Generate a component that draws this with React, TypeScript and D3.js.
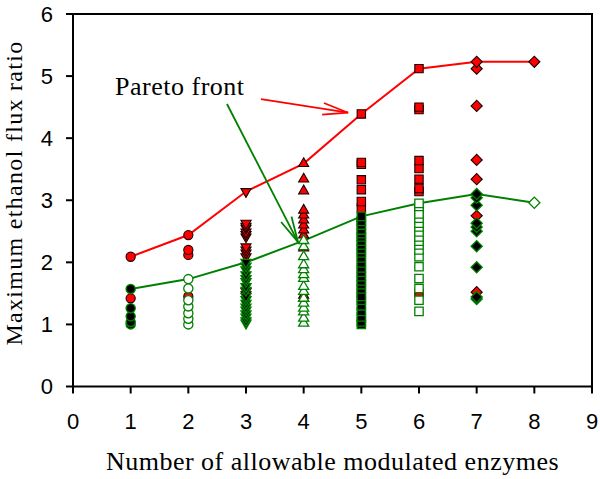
import React from "react";
import * as d3 from "d3";

// ---------- data ----------
const columns = [1, 2, 3, 4, 5, 6, 7, 8];
const shapes = ["circle", "circle", "triangleDown", "triangleUp", "square", "square", "diamond", "diamond"];
const greenFilled = [true, false, true, false, true, false, true, false];

// red series (filled red markers)
const redValues: number[][] = [
  [2.09, 1.42],
  [2.44, 2.2, 2.12, 1.45],
  [3.14, 2.63, 2.58, 2.55, 2.49, 2.45, 2.41, 2.25, 2.2, 2.15, 2.09, 1.53, 1.48],
  [3.59, 3.34, 3.15, 2.84, 2.76, 2.68, 2.6, 2.52, 2.44, 2.23, 1.47, 1.42],
  [4.39, 3.61, 3.58, 3.33, 3.17, 2.98, 2.87, 2.66, 1.5],
  [5.12, 4.5, 4.46, 3.64, 3.51, 3.34, 3.19, 3.14, 2.82, 1.5],
  [5.23, 5.12, 4.52, 3.65, 3.34, 2.75, 1.52],
  [5.23],
];

// green series
const greenValues: number[][] = [
  [1.57, 1.26, 1.13, 1.04, 1.0],
  [1.73, 1.58, 1.39, 1.29, 1.18, 1.09, 1.0],
  [2.0, 1.94, 1.88, 1.8, 1.74, 1.69, 1.61, 1.55, 1.45, 1.4, 1.34, 1.28, 1.23, 1.17, 1.12, 1.06, 1.02],
  [2.35, 2.25, 2.09, 1.96, 1.88, 1.8, 1.74, 1.61, 1.53, 1.42, 1.34, 1.26, 1.2, 1.1, 1.02],
  [2.74, 2.66, 2.6, 2.52, 2.46, 2.41, 2.34, 2.28, 2.21, 2.15, 2.07, 1.99, 1.91, 1.84, 1.77, 1.7, 1.64, 1.57, 1.45, 1.39, 1.3, 1.21, 1.12, 1.04, 1.0],
  [2.95, 2.9, 2.78, 2.71, 2.63, 2.57, 2.49, 2.41, 2.34, 2.28, 2.2, 2.09, 1.93, 1.74, 1.58, 1.39, 1.21],
  [3.1, 3.04, 2.92, 2.63, 2.57, 2.5, 2.26, 1.92, 1.44, 1.41],
  [2.96],
];

// Pareto fronts
const redFront = [2.09, 2.44, 3.14, 3.59, 4.39, 5.12, 5.23, 5.23];
const greenFront = [1.57, 1.73, 2.0, 2.35, 2.74, 2.95, 3.1, 2.96];

const xTicks = [0, 1, 2, 3, 4, 5, 6, 7, 8, 9];
const yTicks = [0, 1, 2, 3, 4, 5, 6];

const xTitle = "Number of allowable modulated enzymes";
const yTitle = "Maximum ethanol flux ratio";
const annotation = "Pareto front";
// annotation anchors in data units
const annotText = [0.73, 4.7];
const redArrow = [[3.26, 4.63], [4.77, 4.41]];
const greenArrow = [[2.67, 4.55], [3.9, 2.33]];

// ---------- layout ----------
const W = 600;
const H = 479;
const left = 73;
const right = 592;
const top = 14;
const bottom = 386.5;

const RED = "#ff0000";
const GREEN = "#008000";
const SERIF = "'Liberation Serif', 'Times New Roman', serif";
const SANS = "'Liberation Sans', Arial, sans-serif";

const x = d3.scaleLinear().domain([0, 9]).range([left, right]);
const y = d3.scaleLinear().domain([0, 6]).range([bottom, top]);

function symbolPath(shape: string) {
  switch (shape) {
    case "circle":
      return d3.symbol().type(d3.symbolCircle).size(66)()!;
    case "square":
      return d3.symbol().type(d3.symbolSquare).size(70)()!;
    case "triangleUp":
    case "triangleDown":
      return d3.symbol().type(d3.symbolTriangle).size(44)()!;
    case "diamond":
      return d3.symbol().type(d3.symbolSquare).size(62)()!;
  }
  return d3.symbol()()!;
}

function rotation(shape: string) {
  if (shape === "triangleDown") return 180;
  if (shape === "diamond") return 45;
  return 0;
}

function Arrow({ from, to, color }: { from: number[]; to: number[]; color: string }) {
  const x1 = x(from[0]), y1 = y(from[1]);
  const x2 = x(to[0]), y2 = y(to[1]);
  const ang = Math.atan2(y1 - y2, x1 - x2);
  const len = 26;
  const spread = (13 * Math.PI) / 180;
  const a1 = [x2 + len * Math.cos(ang + spread), y2 + len * Math.sin(ang + spread)];
  const a2 = [x2 + len * Math.cos(ang - spread), y2 + len * Math.sin(ang - spread)];
  return (
    <g stroke={color} strokeWidth={1.8} fill="none">
      <line x1={x1} y1={y1} x2={x2} y2={y2} />
      <polyline points={`${a1[0]},${a1[1]} ${x2},${y2} ${a2[0]},${a2[1]}`} />
    </g>
  );
}

export default function App() {
  const line = d3
    .line<number>()
    .x((_, i) => x(columns[i]))
    .y((d) => y(d));

  return (
    <svg width={W} height={H} style={{ position: "absolute", left: 0, top: 0, background: "#fff" }}>
      <rect width={W} height={H} fill="#fff" />
      {/* frame */}
      <rect x={left} y={top} width={right - left} height={bottom - top} fill="none" stroke="#000" strokeWidth={2} />
      {/* y ticks */}
      {yTicks.map((t) => (
        <g key={"y" + t}>
          <line x1={left - 7} x2={left} y1={y(t)} y2={y(t)} stroke="#000" strokeWidth={2} />
          <text x={53} y={y(t)} dy="0.36em" textAnchor="end" fontFamily={SANS} fontSize={22}>
            {t}
          </text>
        </g>
      ))}
      {/* x ticks */}
      {xTicks.map((t) => (
        <g key={"x" + t}>
          <line x1={x(t)} x2={x(t)} y1={bottom} y2={bottom + 7} stroke="#000" strokeWidth={2} />
          <text x={x(t)} y={429} textAnchor="middle" fontFamily={SANS} fontSize={22}>
            {t}
          </text>
        </g>
      ))}
      {/* titles */}
      <text x={(left + right) / 2} y={470} textAnchor="middle" fontFamily={SERIF} fontSize={26} letterSpacing={0.5}>
        {xTitle}
      </text>
      <text
        transform={`translate(22,193) rotate(-90)`}
        textAnchor="middle"
        fontFamily={SERIF}
        fontSize={24}
        letterSpacing={1.3}
      >
        {yTitle}
      </text>

      {/* front lines */}
      <path d={line(redFront)!} fill="none" stroke={RED} strokeWidth={2} />
      <path d={line(greenFront)!} fill="none" stroke={GREEN} strokeWidth={2} />

      {/* red markers */}
      {columns.map((c, i) =>
        [...redValues[i]]
          .sort((a, b) => a - b)
          .map((v, j) => (
            <path
              key={`r${i}-${j}`}
              d={symbolPath(shapes[i])}
              transform={`translate(${x(c)},${y(v)}) rotate(${rotation(shapes[i])})`}
              fill={RED}
              stroke="#1a0000"
              strokeWidth={1.1}
            />
          ))
      )}
      {/* green markers */}
      {columns.map((c, i) =>
        [...greenValues[i]]
          .sort((a, b) => a - b)
          .map((v, j) => (
            <path
              key={`g${i}-${j}`}
              d={symbolPath(shapes[i])}
              transform={`translate(${x(c)},${y(v)}) rotate(${rotation(shapes[i])})`}
              fill={greenFilled[i] ? "#000" : "#fff"}
              stroke={GREEN}
              strokeWidth={1.3}
            />
          ))
      )}

      {/* annotation */}
      <text x={x(annotText[0])} y={y(annotText[1])} fontFamily={SERIF} fontSize={26} letterSpacing={0.5}>
        {annotation}
      </text>
      <Arrow from={redArrow[0]} to={redArrow[1]} color={RED} />
      <Arrow from={greenArrow[0]} to={greenArrow[1]} color={GREEN} />
    </svg>
  );
}
